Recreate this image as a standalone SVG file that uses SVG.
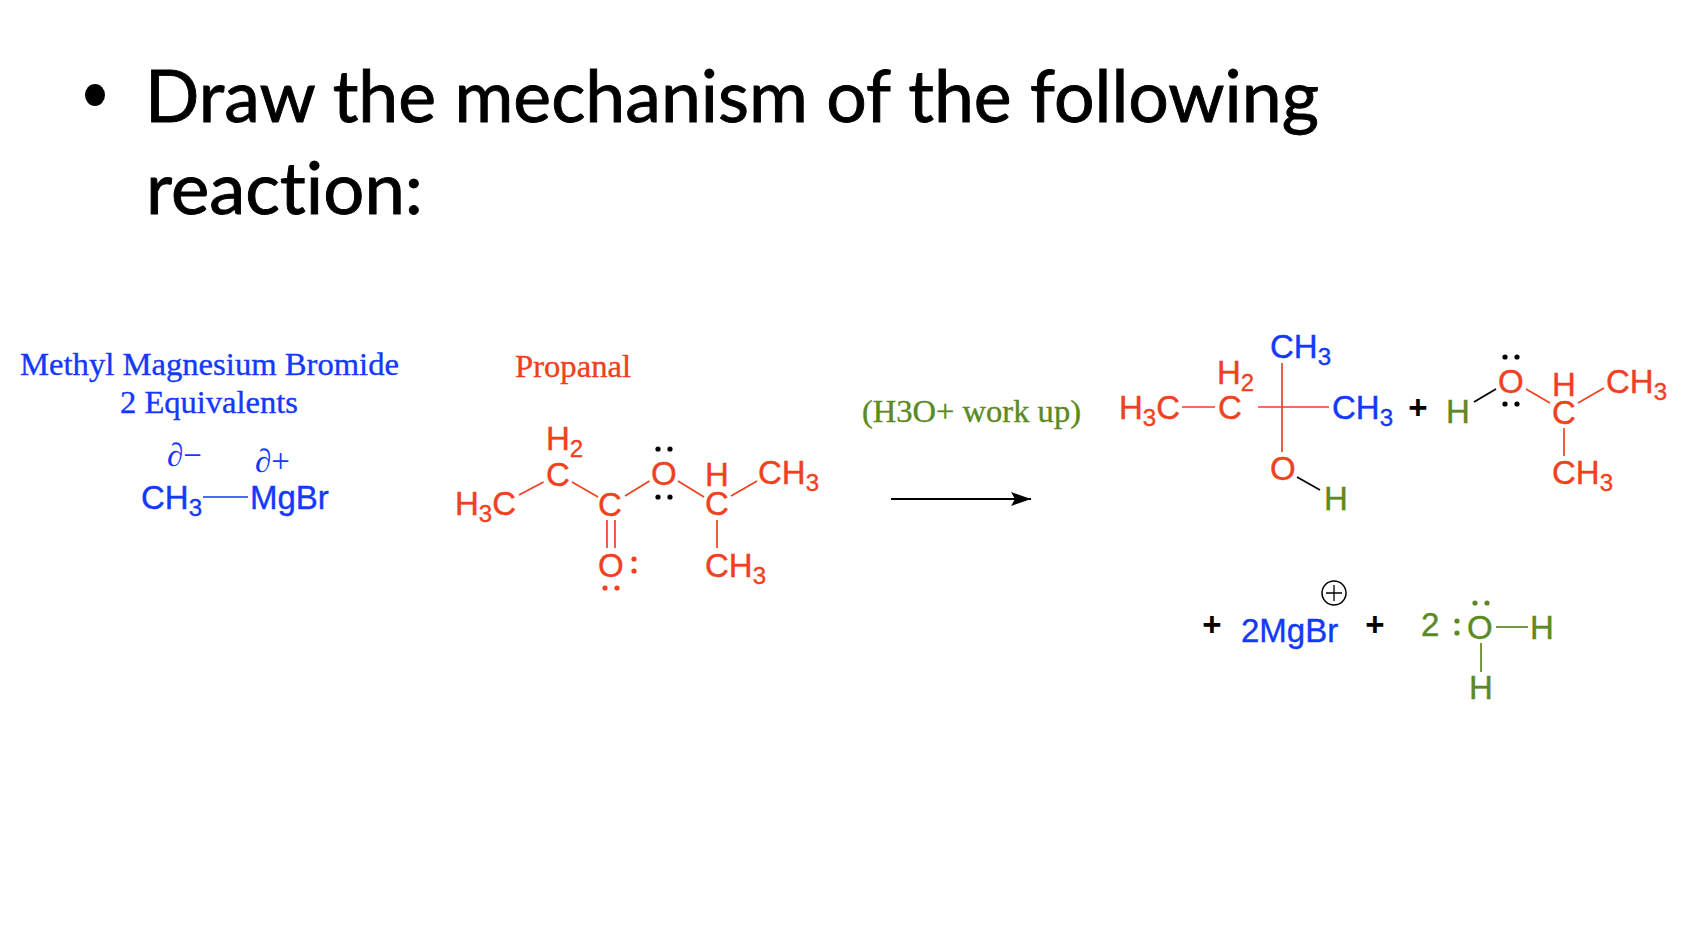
<svg xmlns="http://www.w3.org/2000/svg" width="1682" height="941" viewBox="0 0 1682 941">
<style>
.t{font-family:Lato,"Open Sans",sans-serif;font-size:72px;fill:#000;stroke:#000;stroke-width:.9;font-variant-ligatures:none}
.s{font-family:"Liberation Serif","Times New Roman",serif;font-size:31px;stroke-width:.35}
.d{font-size:33px}
.a{font-family:"Liberation Sans",Arial,sans-serif;font-size:33px;stroke-width:.4}
.u{font-size:24px}
.r{fill:#f0411f;stroke:#f0411f}.b{fill:#1439fb;stroke:#1439fb}.g{fill:#5b8a23;stroke:#5b8a23}.k{fill:#000}
.n{stroke:none}
.bd{fill:none;stroke-width:1.7}
.lr{stroke:#f0411f}.lb{stroke:#1439fb}.lg{stroke:#5b8a23}.lk{stroke:#000}
</style>
<defs>
<marker id="ah" viewBox="0 0 20 14" refX="20" refY="7" markerUnits="userSpaceOnUse" markerWidth="20" markerHeight="14" orient="auto"><path d="M0 0L20 7L0 14L4 7Z" fill="#000"/></marker>
</defs>
<rect width="1682" height="941" fill="#fff"/>
<g id="title">
<ellipse cx="95" cy="95" rx="10" ry="11" fill="#000"/>
<text class="t" x="145" y="122" textLength="1174" lengthAdjust="spacingAndGlyphs">Draw the mechanism of the following</text>
<text class="t" x="146" y="214" textLength="277" lengthAdjust="spacingAndGlyphs">reaction:</text>
</g>
<g id="connectors">
<line class="bd lb" x1="203" y1="497" x2="248" y2="497"/>
<line class="bd lr" x1="519" y1="495" x2="543.5" y2="482"/>
<line class="bd lr" x1="572" y1="482" x2="598" y2="497"/>
<line class="bd lr" x1="625" y1="496" x2="649.5" y2="481"/>
<line class="bd lr" x1="678" y1="481" x2="704" y2="497"/>
<line class="bd lr" x1="731" y1="496" x2="757" y2="481"/>
<line class="bd lr" x1="717" y1="520" x2="717" y2="548"/>
<line class="bd lr" x1="607" y1="520" x2="607" y2="548"/>
<line class="bd lr" x1="615" y1="520" x2="615" y2="548"/>
<line x1="891" y1="499" x2="1031" y2="499" stroke="#000" stroke-width="2.2" marker-end="url(#ah)"/>
<line class="bd lr" x1="1182" y1="407" x2="1215" y2="407"/>
<line class="bd lr" x1="1258" y1="407" x2="1329" y2="407"/>
<line class="bd lr" x1="1282" y1="363" x2="1282" y2="452"/>
<line class="bd lk" x1="1297" y1="477" x2="1320" y2="490"/>
<line class="bd lk" x1="1474" y1="402" x2="1496" y2="389"/>
<line class="bd lr" x1="1526" y1="389" x2="1550" y2="403"/>
<line class="bd lr" x1="1578" y1="403" x2="1604" y2="388"/>
<line class="bd lr" x1="1564" y1="428" x2="1564" y2="456"/>
<line class="bd lg" x1="1496" y1="627" x2="1528" y2="627"/>
<line class="bd lg" x1="1481" y1="643" x2="1481" y2="672"/>
</g>
<g id="label-grignard">
<text class="s b" x="20" y="375" textLength="379" lengthAdjust="spacingAndGlyphs">Methyl Magnesium Bromide</text>
<text class="s b" x="120" y="413" textLength="178" lengthAdjust="spacingAndGlyphs">2 Equivalents</text>
</g>
<g id="grignard">
<text class="s d b n" x="167" y="466">∂−</text>
<text class="s d b n" x="255" y="472">∂+</text>
<text class="a b" x="141" y="509">CH<tspan class="u" dy="7">3</tspan></text>
<text class="a b" x="250" y="509">MgBr</text>
</g>
<g id="label-propanal"><text class="s r" x="515" y="377" textLength="116" lengthAdjust="spacingAndGlyphs">Propanal</text></g>
<g id="reactant">
<text class="a r" x="546" y="450">H<tspan class="u" dy="7">2</tspan></text>
<text class="a r" x="546" y="486">C</text>
<text class="a r" x="455" y="515">H<tspan class="u" dy="7">3</tspan><tspan dy="-7">C</tspan></text>
<text class="a r" x="598" y="516">C</text>
<text class="a r" x="651" y="485">O</text>
<text class="a r" x="705" y="486">H</text>
<text class="a r" x="705" y="515">C</text>
<text class="a r" x="758" y="484">CH<tspan class="u" dy="7">3</tspan></text>
<text class="a r" x="705" y="577">CH<tspan class="u" dy="7">3</tspan></text>
<text class="a r" x="598" y="577">O</text>
<g class="k n"><circle cx="658" cy="449" r="2.6"/><circle cx="670" cy="449" r="2.6"/><circle cx="658" cy="497" r="2.6"/><circle cx="670" cy="497" r="2.6"/></g>
<g class="r n"><circle cx="634" cy="559" r="2.6"/><circle cx="634" cy="571" r="2.6"/><circle cx="605" cy="588" r="2.6"/><circle cx="617" cy="588" r="2.6"/></g>
</g>
<g id="label-workup"><text class="s g" x="862" y="422" textLength="219" lengthAdjust="spacingAndGlyphs">(H3O+ work up)</text></g>
<g id="product-alcohol">
<text class="a b" x="1270" y="358">CH<tspan class="u" dy="7">3</tspan></text>
<text class="a r" x="1217" y="384">H<tspan class="u" dy="7">2</tspan></text>
<text class="a r" x="1119" y="419">H<tspan class="u" dy="7">3</tspan><tspan dy="-7">C</tspan></text>
<text class="a r" x="1218" y="419">C</text>
<text class="a b" x="1332" y="419">CH<tspan class="u" dy="7">3</tspan></text>
<text class="a r" x="1270" y="480">O</text>
<text class="a g" x="1324" y="510">H</text>
</g>
<g id="plus-1"><text class="a k" x="1418" y="419" text-anchor="middle" font-weight="700">+</text></g>
<g id="product-isopropanol">
<text class="a g" x="1446" y="423">H</text>
<text class="a r" x="1498" y="393">O</text>
<text class="a r" x="1552" y="396">H</text>
<text class="a r" x="1552" y="424">C</text>
<text class="a r" x="1606" y="393">CH<tspan class="u" dy="7">3</tspan></text>
<text class="a r" x="1552" y="484">CH<tspan class="u" dy="7">3</tspan></text>
<g class="k n"><circle cx="1505" cy="357" r="2.6"/><circle cx="1517" cy="357" r="2.6"/><circle cx="1505" cy="404" r="2.6"/><circle cx="1517" cy="404" r="2.6"/></g>
</g>
<g id="plus-2"><text class="a k" x="1212" y="636" text-anchor="middle" font-weight="700">+</text></g>
<g id="magnesium-bromide">
<text class="a b" x="1241" y="642">2MgBr</text>
<circle cx="1334" cy="593" r="12" fill="none" stroke="#000" stroke-width="1.5"/>
<path d="M1326 593H1342M1334 585V601" fill="none" stroke="#000" stroke-width="1.3"/>
</g>
<g id="plus-3"><text class="a k" x="1375" y="636" text-anchor="middle" font-weight="700">+</text></g>
<g id="water">
<text class="a g" x="1421" y="636">2</text>
<text class="a g" x="1467" y="639">O</text>
<text class="a g" x="1530" y="639">H</text>
<text class="a g" x="1469" y="699">H</text>
<g class="g n"><circle cx="1457" cy="621" r="2.6"/><circle cx="1457" cy="633" r="2.6"/><circle cx="1475" cy="603" r="2.6"/><circle cx="1487" cy="603" r="2.6"/></g>
</g>
</svg>
